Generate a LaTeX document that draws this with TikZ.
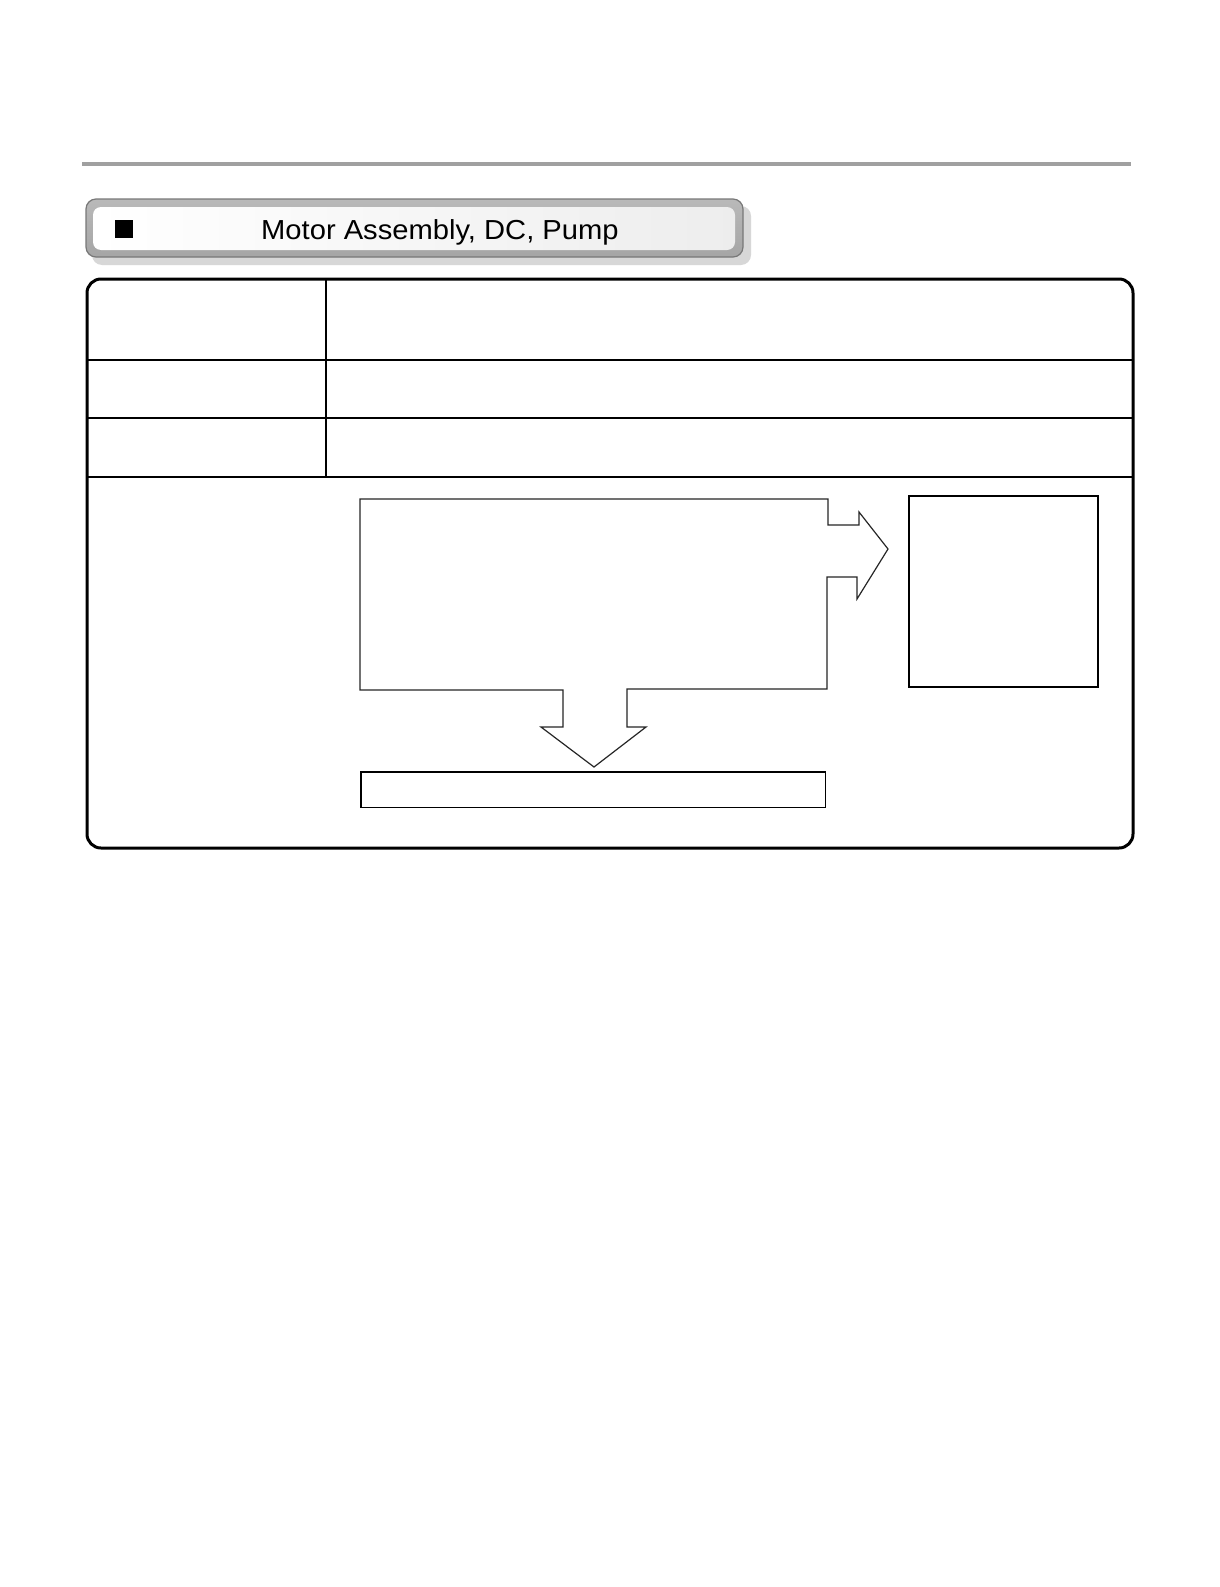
\documentclass[tikz,border=0pt]{standalone}
\usepackage{fontspec}
\setmainfont{Liberation Sans}
\usetikzlibrary{shadows}
\definecolor{rulegray}{RGB}{160,160,160}
\definecolor{bannerdark}{RGB}{120,120,120}
\definecolor{bannerfill}{RGB}{185,185,185}
\definecolor{bannerfillb}{RGB}{165,165,165}
\definecolor{shadowgray}{RGB}{215,215,215}
\begin{document}
\begin{tikzpicture}[x=1pt,y=-1pt,
  box/.style={draw=black, line width=1.5pt, inner sep=0pt, anchor=north west},
  thinline/.style={line width=1.8pt, draw=black},
  flowshape/.style={line width=1.2pt, draw=black!85}]
\useasboundingbox (0,0) rectangle (1219,1587);
\fill[white] (0,0) rectangle (1219,1587);
% top rule
\draw[line width=3.5pt, rulegray] (82,164) -- (1131,164);
% banner
\fill[shadowgray, rounded corners=10pt] (92,206) rectangle (751,265);
\draw[draw=bannerdark, line width=1.2pt, top color=bannerfill, bottom color=bannerfillb, rounded corners=10pt] (86,199) rectangle (743,257);
\shade[left color=white, right color=gray!14, rounded corners=8pt] (93,207) rectangle (735,250);
\node[fill=black, minimum width=18pt, minimum height=18pt, inner sep=0pt, anchor=north west] (sq) at (115,220) {};
\node[anchor=base west, inner sep=0pt, font=\fontsize{27.5}{31}\selectfont] (title) at (261,239) {\scalebox{1.06}[1]{Motor Assembly, DC, Pump}};
% table
\draw[line width=3pt, rounded corners=14pt] (87,279) rectangle (1133,848);
\draw[thinline] (87,360) -- (1133,360);
\draw[thinline] (87,418) -- (1133,418);
\draw[thinline] (87,477) -- (1133,477);
\draw[thinline] (326,279) -- (326,477);
% flow shape with two arrows
\draw[flowshape] (360,499) -- (828,499) -- (828,525) -- (859,525) -- (859,512) -- (888,549)
  -- (857,599) -- (857,577) -- (827,577) -- (827,689) -- (627,689) -- (627,727) -- (646,727)
  -- (594,767) -- (541,727) -- (563,727) -- (563,690) -- (360,690) -- cycle;
% boxes
\node[box, minimum width=189pt, minimum height=191pt] (side) at (908,495) {};
\node[box, minimum width=464.5pt, minimum height=35.5pt] (bottom) at (360,771) {};
\end{tikzpicture}
\end{document}
